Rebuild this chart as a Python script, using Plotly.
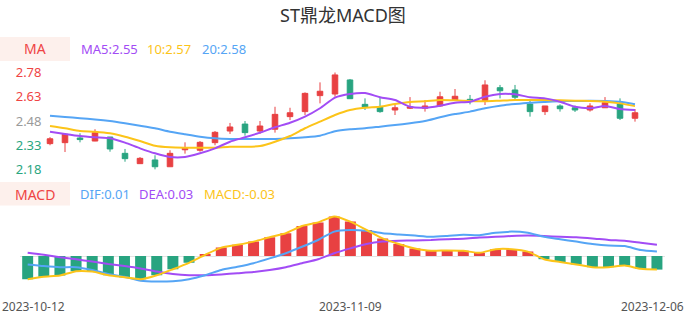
import plotly.graph_objects as go

dates = ["2023-10-12","2023-10-13","2023-10-16","2023-10-17","2023-10-18","2023-10-19","2023-10-20",
         "2023-10-23","2023-10-24","2023-10-25","2023-10-26","2023-10-27","2023-10-30","2023-10-31",
         "2023-11-01","2023-11-02","2023-11-03","2023-11-06","2023-11-07","2023-11-08","2023-11-09",
         "2023-11-10","2023-11-13","2023-11-14","2023-11-15","2023-11-16","2023-11-17","2023-11-20",
         "2023-11-21","2023-11-22","2023-11-23","2023-11-24","2023-11-27","2023-11-28","2023-11-29",
         "2023-11-30","2023-12-01","2023-12-04","2023-12-05","2023-12-06"]

open_ = [2.34,2.346,2.375,2.356,2.381,2.280,2.216,2.239,2.197,2.302,2.299,2.346,2.418,2.461,2.418,2.429,2.507,2.538,2.637,2.647,
         2.734,2.583,2.568,2.548,2.559,2.559,2.573,2.612,2.614,2.606,2.686,2.672,2.585,2.538,2.573,2.562,2.548,2.562,2.585,2.497]
high = [2.38,2.404,2.404,2.429,2.381,2.307,2.257,2.268,2.299,2.348,2.356,2.418,2.468,2.480,2.480,2.568,2.562,2.657,2.719,2.780,
        2.740,2.620,2.626,2.583,2.628,2.610,2.661,2.678,2.641,2.732,2.703,2.703,2.606,2.573,2.583,2.575,2.590,2.628,2.620,2.554]
low = [2.33,2.288,2.348,2.355,2.290,2.228,2.216,2.181,2.197,2.278,2.290,2.330,2.400,2.389,2.400,2.408,2.486,2.517,2.589,2.630,
       2.618,2.548,2.531,2.517,2.554,2.538,2.568,2.604,2.583,2.579,2.620,2.612,2.507,2.517,2.538,2.536,2.538,2.562,2.486,2.476]
close = [2.37,2.398,2.365,2.408,2.307,2.247,2.249,2.197,2.280,2.311,2.348,2.410,2.443,2.408,2.449,2.521,2.531,2.651,2.664,2.765,
         2.618,2.567,2.538,2.562,2.567,2.573,2.630,2.633,2.606,2.703,2.667,2.627,2.538,2.573,2.556,2.548,2.573,2.593,2.497,2.531]

ma5 = [2.414,2.400,2.387,2.379,2.373,2.346,2.311,2.280,2.257,2.257,2.280,2.311,2.352,2.379,2.408,2.441,2.469,2.507,2.559,2.625,
       2.647,2.653,2.627,2.610,2.568,2.562,2.575,2.593,2.599,2.630,2.647,2.645,2.627,2.620,2.599,2.568,2.559,2.573,2.554,2.548]
ma10 = [2.449,2.435,2.418,2.414,2.404,2.383,2.356,2.327,2.317,2.315,2.315,2.315,2.321,2.321,2.325,2.352,2.387,2.435,2.476,2.517,
        2.548,2.562,2.568,2.585,2.598,2.602,2.610,2.608,2.604,2.602,2.606,2.610,2.610,2.610,2.608,2.606,2.604,2.599,2.589,2.572]
ma20 = [2.513,2.505,2.497,2.490,2.480,2.466,2.451,2.435,2.414,2.398,2.383,2.373,2.369,2.369,2.369,2.369,2.373,2.379,2.389,2.417,
        2.429,2.435,2.445,2.455,2.466,2.480,2.503,2.523,2.538,2.559,2.575,2.585,2.593,2.598,2.602,2.604,2.606,2.604,2.599,2.584]

dif = [-0.021,-0.025,-0.028,-0.028,-0.035,-0.045,-0.052,-0.062,-0.064,-0.063,-0.058,-0.048,-0.035,-0.027,-0.018,-0.006,0.007,0.023,0.040,0.061,
       0.065,0.063,0.057,0.054,0.051,0.048,0.050,0.053,0.052,0.058,0.061,0.058,0.048,0.042,0.036,0.030,0.026,0.025,0.015,0.011]
dea = [0.008,0.003,-0.003,-0.008,-0.014,-0.020,-0.025,-0.031,-0.039,-0.045,-0.048,-0.048,-0.046,-0.043,-0.040,-0.035,-0.028,-0.018,-0.008,0.007,
       0.019,0.030,0.036,0.038,0.039,0.040,0.042,0.043,0.046,0.048,0.050,0.051,0.050,0.048,0.047,0.044,0.040,0.038,0.033,0.028]
macd = [-0.058,-0.052,-0.049,-0.038,-0.039,-0.048,-0.053,-0.058,-0.048,-0.033,-0.017,0.003,0.021,0.028,0.036,0.047,0.057,0.075,0.084,0.099,
        0.086,0.065,0.044,0.030,0.019,0.013,0.014,0.013,0.008,0.017,0.017,0.011,-0.008,-0.015,-0.021,-0.028,-0.028,-0.024,-0.032,-0.034]

price_ticks = [2.18, 2.33, 2.48, 2.63, 2.78]
tick_colors = ["#2aa67f", "#2aa67f", "#9a9a9a", "#ef4444", "#ef4444"]
date_labels = [dates[0], dates[20], dates[39]]

RED = "#e84142"
GREEN = "#28a480"
PURPLE = "#a24cf5"
YELLOW = "#fcc419"
BLUE = "#55a5f5"
FONT = "Noto Sans, Noto Sans CJK SC, sans-serif"

fig = go.Figure()

fig.add_trace(go.Candlestick(
    x=dates, open=open_, high=high, low=low, close=close,
    increasing=dict(line=dict(color=RED, width=1), fillcolor=RED),
    decreasing=dict(line=dict(color=GREEN, width=1), fillcolor=GREEN),
    whiskerwidth=0, xaxis="x", yaxis="y", hoverinfo="skip", showlegend=False))

for vals, col in [(ma20, BLUE), (ma10, YELLOW), (ma5, PURPLE)]:
    fig.add_trace(go.Scatter(x=dates, y=vals, mode="lines",
                             line=dict(color=col, width=2, shape="spline", smoothing=0.6),
                             xaxis="x", yaxis="y", hoverinfo="skip", showlegend=False))

bar_colors = [RED if v >= 0 else GREEN for v in macd]
fig.add_trace(go.Bar(x=dates, y=macd, marker=dict(color=bar_colors, line=dict(width=0)),
                     xaxis="x2", yaxis="y2", hoverinfo="skip", showlegend=False))
for vals, col in [(dea, PURPLE), (dif, BLUE), (macd, YELLOW)]:
    fig.add_trace(go.Scatter(x=dates, y=vals, mode="lines",
                             line=dict(color=col, width=2, shape="spline", smoothing=0.6),
                             xaxis="x2", yaxis="y2", hoverinfo="skip", showlegend=False))

fig.update_layout(
    width=686, height=320,
    margin=dict(l=0, r=0, t=0, b=0, autoexpand=False),
    paper_bgcolor="white", plot_bgcolor="white",
    font=dict(family=FONT, size=13),
    bargap=0.32, boxgap=0.47,
    xaxis=dict(domain=[42.5/686, 642.5/686], type="category", range=[-0.5, 39.5], automargin=False,
               showticklabels=False, showgrid=False, zeroline=False, showline=False,
               rangeslider=dict(visible=False), anchor="y"),
    yaxis=dict(domain=[1-170.3/320, 1-71.7/320], range=[2.175, 2.785], automargin=False,
               tickvals=price_ticks,
               ticktext=[f'<span style="color:{c}">{v:.2f}</span>' for v, c in zip(price_ticks, tick_colors)],
               tickfont=dict(size=13), showgrid=False, zeroline=False, showline=False, anchor="x"),
    xaxis2=dict(domain=[19.6/686, 665/686], type="category", range=[-0.5, 39.5], automargin=False,
                showticklabels=False, showgrid=False, zeroline=False, showline=False,
                anchor="y2"),
    yaxis2=dict(domain=[1-297/320, 1-208/320], range=[-0.1025, 0.12], automargin=False,
                showticklabels=False, showgrid=False, zeroline=True, zerolinecolor="#e3e3e3",
                zerolinewidth=1, showline=False, anchor="x2"),
)

fig.add_shape(type="rect", xref="paper", yref="paper", x0=0, x1=70/686, y0=1-61/320, y1=1-37/320,
              fillcolor="#fdf0ec", line=dict(width=0), layer="below")
fig.add_shape(type="rect", xref="paper", yref="paper", x0=0, x1=70/686, y0=1-205.5/320, y1=1-182/320,
              fillcolor="#fdf0ec", line=dict(width=0), layer="below")

def text(x, y, s, color, size=13, anchor="left"):
    fig.add_annotation(x=x/686, y=1-y/320, xref="paper", yref="paper", text=s, showarrow=False,
                       xanchor=anchor, yanchor="middle", font=dict(color=color, size=size, family=FONT))

text(343, 15, "ST鼎龙MACD图", "#333333", size=18, anchor="center")
text(35, 49, "MA", "#ef4444", size=14, anchor="center")
text(79, 49, f"MA5:{ma5[-1]:.2f}", PURPLE)
text(145, 49, f"10:{ma10[-1]:.2f}", YELLOW)
text(200, 49, f"20:{ma20[-1]:.2f}", BLUE)
text(35, 194, "MACD", "#ef4444", size=14, anchor="center")
text(78, 194, f"DIF:{dif[-1]:.2f}", BLUE)
text(137, 194, f"DEA:{dea[-1]:.2f}", PURPLE)
text(202, 194, f"MACD:{macd[-1]:.2f}", YELLOW)

# date labels along the MACD axis, kept inside the picture at the edges
label_font = dict(size=12, color="#555555", family=FONT)
fig.add_annotation(x=0, y=1-306/320, xref="paper", yref="paper", text=date_labels[0], showarrow=False,
                   xanchor="left", yanchor="middle", font=label_font)
fig.add_annotation(x=date_labels[1], y=1-306/320, xref="x2", yref="paper", text=date_labels[1], showarrow=False,
                   xanchor="center", yanchor="middle", font=label_font)
fig.add_annotation(x=1, y=1-306/320, xref="paper", yref="paper", text=date_labels[2], showarrow=False,
                   xanchor="right", yanchor="middle", font=label_font)

fig.write_html("out.html")
